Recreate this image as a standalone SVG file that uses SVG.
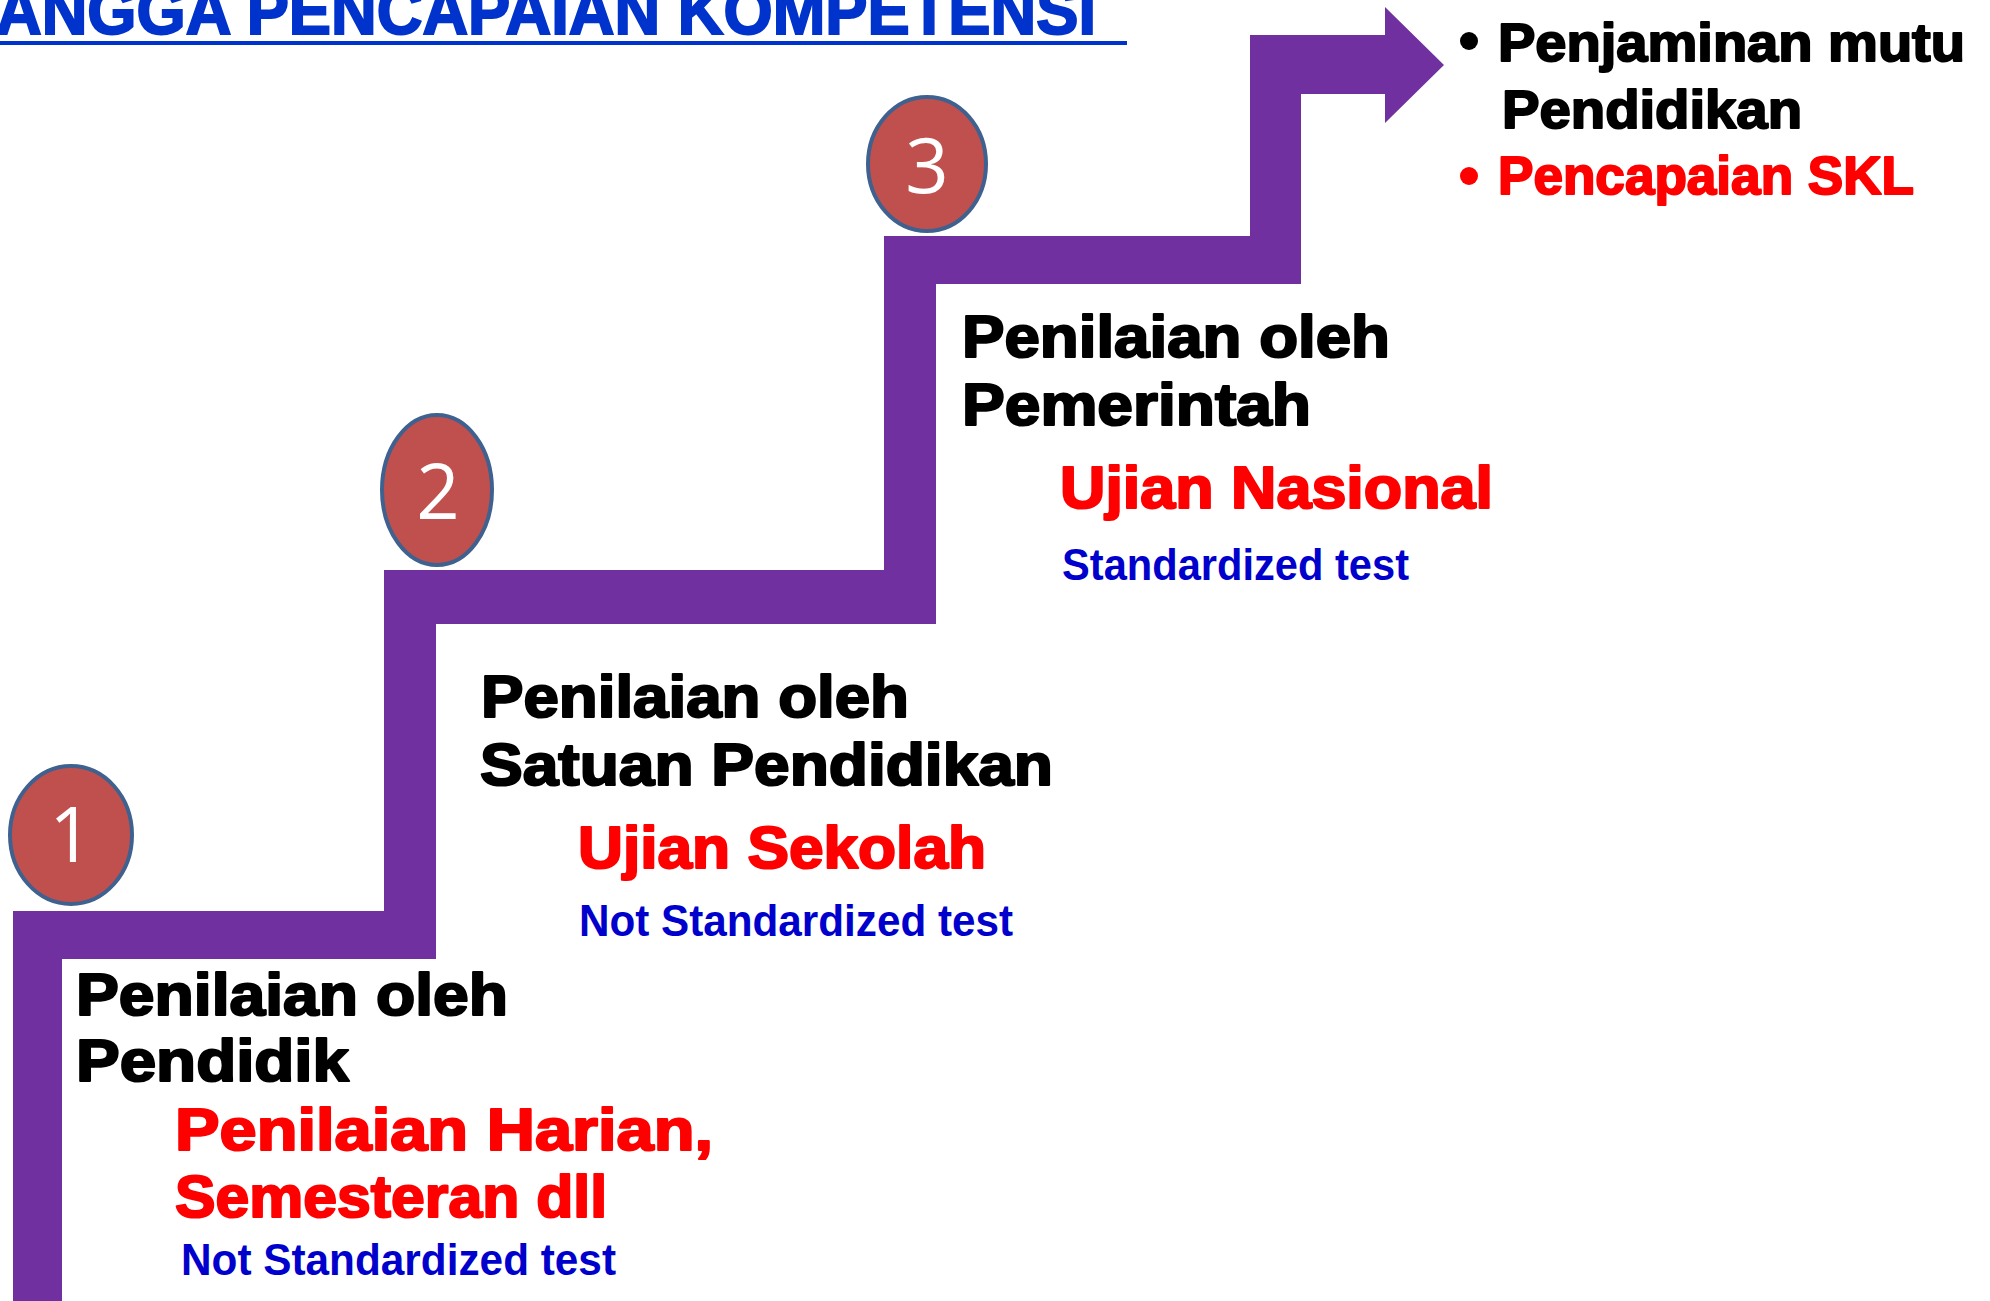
<svg xmlns="http://www.w3.org/2000/svg" width="1990" height="1301" viewBox="0 0 1990 1301">
<style>
.h{font-family:"Liberation Sans",Arial,sans-serif;font-weight:bold;font-size:60px;stroke-width:2.2;stroke-linejoin:round;}
.k{fill:#000;stroke:#000;}
.r{fill:#FF0000;stroke:#FF0000;}
.b{font-family:"Liberation Sans",Arial,sans-serif;font-weight:bold;font-size:45px;fill:#0000CC;}
.t{font-family:"Liberation Sans",Arial,sans-serif;font-weight:bold;font-size:53px;stroke-width:2;stroke-linejoin:round;}
.num{font-family:"Open Sans","Liberation Sans",sans-serif;font-size:76px;fill:#fff;text-anchor:middle;}
.circ{fill:#C0504D;stroke:#3F6190;stroke-width:4;}
</style>
<rect width="1990" height="1301" fill="#fff"/>
<g id="title">
<text x="-4" y="34" font-family="'Liberation Sans',Arial,sans-serif" font-weight="bold" font-size="66" fill="#0033CC" stroke="#0033CC" stroke-width="2" textLength="1100" lengthAdjust="spacingAndGlyphs">ANGGA PENCAPAIAN KOMPETENSI</text>
<rect x="0" y="41" width="1127" height="4" fill="#0033CC"/>
</g>
<g id="connectors">
<polygon fill="#7030A0" points="13,1301 13,911 384,911 384,570 884,570 884,236 1250,236 1250,35 1385,35 1385,7 1444,65 1385,123 1385,94 1301,94 1301,284 936,284 936,624 436,624 436,959 62,959 62,1301"/>
</g>
<g id="badge1">
<ellipse class="circ" cx="71" cy="835" rx="61" ry="69"/>
<text class="num" x="71" y="862">1</text>
</g>
<g id="badge2">
<ellipse class="circ" cx="437" cy="490" rx="55" ry="75"/>
<text class="num" x="438" y="519">2</text>
</g>
<g id="badge3">
<ellipse class="circ" cx="927" cy="164" rx="59" ry="67"/>
<text class="num" x="927" y="193">3</text>
</g>
<g id="step1">
<text class="h k" x="76" y="1015" textLength="432" lengthAdjust="spacingAndGlyphs">Penilaian oleh</text>
<text class="h k" x="76" y="1081" textLength="273" lengthAdjust="spacingAndGlyphs">Pendidik</text>
<text class="h r" x="175" y="1150" textLength="538" lengthAdjust="spacingAndGlyphs">Penilaian Harian,</text>
<text class="h r" x="175" y="1217" textLength="432" lengthAdjust="spacingAndGlyphs">Semesteran dll</text>
<text class="b" x="181" y="1275" textLength="435" lengthAdjust="spacingAndGlyphs">Not Standardized test</text>
</g>
<g id="step2">
<text class="h k" x="481" y="717" textLength="428" lengthAdjust="spacingAndGlyphs">Penilaian oleh</text>
<text class="h k" x="480" y="785" textLength="573" lengthAdjust="spacingAndGlyphs">Satuan Pendidikan</text>
<text class="h r" x="578" y="868" textLength="408" lengthAdjust="spacingAndGlyphs">Ujian Sekolah</text>
<text class="b" x="579" y="936" textLength="434" lengthAdjust="spacingAndGlyphs">Not Standardized test</text>
</g>
<g id="step3">
<text class="h k" x="962" y="357" textLength="428" lengthAdjust="spacingAndGlyphs">Penilaian oleh</text>
<text class="h k" x="962" y="425" textLength="349" lengthAdjust="spacingAndGlyphs">Pemerintah</text>
<text class="h r" x="1060" y="508" textLength="433" lengthAdjust="spacingAndGlyphs">Ujian Nasional</text>
<text class="b" x="1062" y="580" textLength="347" lengthAdjust="spacingAndGlyphs">Standardized test</text>
</g>
<g id="goal">
<circle cx="1469" cy="41" r="9" fill="#000"/>
<text class="t k" x="1498" y="61" textLength="467" lengthAdjust="spacingAndGlyphs">Penjaminan mutu</text>
<text class="t k" x="1502" y="128" textLength="300" lengthAdjust="spacingAndGlyphs">Pendidikan</text>
<circle cx="1469" cy="176" r="9" fill="#FF0000"/>
<text class="t r" x="1498" y="194" textLength="416" lengthAdjust="spacingAndGlyphs">Pencapaian SKL</text>
</g>
</svg>
